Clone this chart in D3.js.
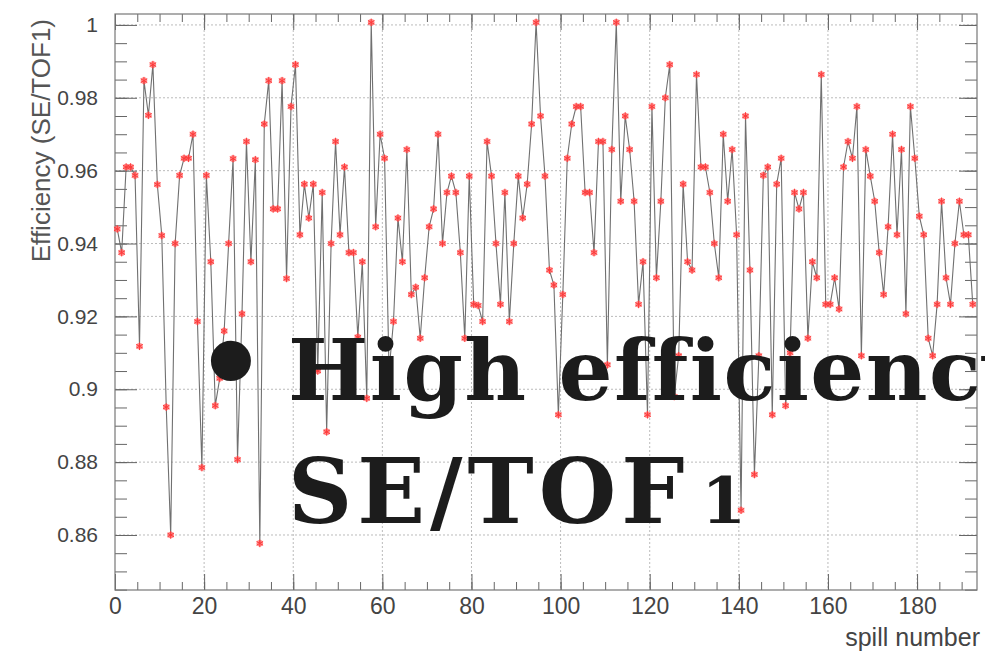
<!DOCTYPE html>
<html><head><meta charset="utf-8">
<script src="https://cdn.jsdelivr.net/npm/d3@7"></script>
<style>body{margin:0;background:#fff}</style>
</head><body>
<svg id="c" width="985" height="654"></svg>
<script>
const efficiency = [
0.944,0.9375,0.961,0.961,0.9587,0.9118,0.9847,0.9752,0.9891,0.9562,
0.9422,0.8951,0.860,0.940,0.9587,0.9634,0.9634,0.970,0.9186,0.8785,
0.9587,0.935,0.8955,0.903,0.916,0.94,0.9633,0.8807,0.9207,0.968,
0.935,0.963,0.8577,0.9728,0.9847,0.9495,0.9495,0.9847,0.9304,0.9776,
0.9891,0.9424,0.9563,0.947,0.9563,0.905,0.954,0.8883,0.94,0.968,
0.9424,0.961,0.9375,0.9375,0.9143,0.935,0.8975,1.0007,0.9446,0.970,
0.9634,0.905,0.9186,0.947,0.935,0.9658,0.926,0.928,0.914,0.9306,
0.9446,0.9495,0.970,0.94,0.954,0.9585,0.954,0.9375,0.914,0.9585,
0.9233,0.923,0.9186,0.968,0.9585,0.94,0.9233,0.954,0.9186,0.94,
0.9585,0.947,0.9563,0.9728,1.0007,0.975,0.9585,0.9327,0.9286,0.893,
0.926,0.9634,0.9728,0.9776,0.9776,0.954,0.954,0.9375,0.968,0.968,
0.9067,0.9658,1.0007,0.9516,0.975,0.9658,0.9516,0.9233,0.935,0.893,
0.9776,0.9306,0.9516,0.98,0.9891,0.898,0.9092,0.9563,0.935,0.9327,
0.9864,0.961,0.961,0.954,0.94,0.9306,0.970,0.9516,0.9658,0.9424,
0.8668,0.975,0.9327,0.8766,0.9092,0.9587,0.961,0.893,0.9563,0.9634,
0.8955,0.91,0.954,0.9495,0.954,0.914,0.935,0.9306,0.9864,0.9233,
0.9233,0.9306,0.922,0.961,0.968,0.9634,0.9776,0.9092,0.9658,0.9585,
0.9516,0.9375,0.926,0.9446,0.970,0.9424,0.9658,0.9207,0.9776,0.9634,
0.9475,0.9424,0.914,0.9092,0.9233,0.9516,0.9306,0.9233,0.94,0.9516,
0.9424,0.9424,0.9233
];
const spill = efficiency.map((d, i) => i + 0.5);
const xTicks = [0, 20, 40, 60, 80, 100, 120, 140, 160, 180];
const yTicks = [0.86, 0.88, 0.9, 0.92, 0.94, 0.96, 0.98, 1];
const yTickLabels = ["0.86", "0.88", "0.9", "0.92", "0.94", "0.96", "0.98", "1"];
const xTitle = "spill number";
const yTitle = "Efficiency (SE/TOF1)";
const noteBullet = "\u2022";
const noteLine1 = "High efficiency";
const noteLine2Main = "SE/TOF";
const noteLine2Num = "1";

const svg = d3.select("#c");
const L = 115, R = 977, T = 14, B = 590;
const x = d3.scaleLinear().domain([0, 193.45]).range([L, R]);
const y = d3.scaleLinear().domain([0.8449, 1.003]).range([B, T]);

const xMinor = d3.range(0, 193.45, 5);
const yMinor = d3.range(0.845, 1.003, 0.005);
const axisFont = "'Liberation Sans', Arial, Helvetica, sans-serif";
const axisColor = "#666";

// grid
svg.append("g").selectAll("line").data(xTicks.filter(d => d > 0)).join("line")
  .attr("x1", d => x(d)).attr("x2", d => x(d)).attr("y1", T).attr("y2", B)
  .attr("stroke", "#bbb").attr("stroke-dasharray", "2,2").attr("stroke-width", 1);
svg.append("g").selectAll("line").data(yTicks).join("line")
  .attr("x1", L).attr("x2", R).attr("y1", d => y(d)).attr("y2", d => y(d))
  .attr("stroke", "#bbb").attr("stroke-dasharray", "2,2").attr("stroke-width", 1);

function styleAxis(g) {
  g.select(".domain").remove();
  g.selectAll(".tick line").attr("stroke", axisColor);
  g.selectAll("text").attr("fill", "#444").style("font-family", axisFont);
}

// bottom axis
svg.append("g").attr("transform", `translate(0,${B})`)
  .call(d3.axisBottom(x).tickValues(xMinor).tickSize(-8).tickFormat(""))
  .call(styleAxis);
svg.append("g").attr("transform", `translate(0,${B})`)
  .call(d3.axisBottom(x).tickValues(xTicks).tickSizeInner(-16).tickSizeOuter(0).tickFormat(d3.format("d")))
  .call(styleAxis)
  .call(g => g.selectAll("text").attr("y", 8).style("font-size", "23px"));
// top axis
svg.append("g").attr("transform", `translate(0,${T})`)
  .call(d3.axisTop(x).tickValues(xMinor).tickSize(-8).tickFormat(""))
  .call(styleAxis);
svg.append("g").attr("transform", `translate(0,${T})`)
  .call(d3.axisTop(x).tickValues(xTicks).tickSize(-16).tickFormat(""))
  .call(styleAxis);
// left axis
svg.append("g").attr("transform", `translate(${L},0)`)
  .call(d3.axisLeft(y).tickValues(yMinor).tickSize(-12).tickFormat(""))
  .call(styleAxis);
svg.append("g").attr("transform", `translate(${L},0)`)
  .call(d3.axisLeft(y).tickValues(yTicks).tickSizeInner(-22).tickSizeOuter(0).tickFormat((d, i) => yTickLabels[i]))
  .call(styleAxis)
  .call(g => g.selectAll("text").attr("x", -17).style("font-size", "21px"));
// right axis
svg.append("g").attr("transform", `translate(${R},0)`)
  .call(d3.axisRight(y).tickValues(yMinor).tickSize(-12).tickFormat(""))
  .call(styleAxis);
svg.append("g").attr("transform", `translate(${R},0)`)
  .call(d3.axisRight(y).tickValues(yTicks).tickSize(-18).tickFormat(""))
  .call(styleAxis);

// frame
svg.append("rect").attr("x", L).attr("y", T).attr("width", R - L).attr("height", B - T)
  .attr("fill", "none").attr("stroke", "#777").attr("stroke-width", 1.2);

// data line
const pts = efficiency.map((v, i) => [spill[i], v]);
svg.append("path").datum(pts)
  .attr("fill", "none").attr("stroke", "#707070").attr("stroke-width", 1.1)
  .attr("d", d3.line().x(d => x(d[0])).y(d => y(d[1])));

// markers
const mk = svg.append("g");
mk.selectAll("circle").data(pts).join("circle")
  .attr("cx", d => x(d[0])).attr("cy", d => y(d[1])).attr("r", 3.3)
  .attr("fill", "#ff5a5a").attr("fill-opacity", 0.7);
mk.selectAll("path").data(pts).join("path")
  .attr("transform", d => `translate(${x(d[0])},${y(d[1])})`)
  .attr("d", d3.symbol(d3.symbolAsterisk, 40))
  .attr("fill", "none").attr("stroke", "#ff3a3a").attr("stroke-width", 1);

// titles
svg.append("text").attr("x", 980).attr("y", 646).attr("text-anchor", "end")
  .style("font-family", axisFont).style("font-size", "25px").attr("fill", "#444").text(xTitle);
svg.append("text").attr("transform", "translate(50,19) rotate(-90)").attr("text-anchor", "end")
  .style("font-family", axisFont).style("font-size", "26px").attr("fill", "#555").text(yTitle);

// overlay note
const noteFont = "'DejaVu Serif', 'Liberation Serif', serif";
svg.append("text").attr("x", 231).attr("y", 403).attr("text-anchor", "middle")
  .style("font-family", noteFont).style("font-weight", "bold").style("font-size", "114px")
  .attr("fill", "#1c1c1c").text(noteBullet);
svg.append("text").attr("x", 288).attr("y", 400)
  .style("font-family", noteFont).style("font-weight", "bold").style("font-size", "85px")
  .style("letter-spacing", "1.4px")
  .attr("fill", "#1c1c1c").text(noteLine1);
const l2 = svg.append("text").attr("x", 288).attr("y", 523)
  .style("font-family", noteFont).style("font-weight", "bold").style("font-size", "89px")
  .style("letter-spacing", "5px")
  .attr("fill", "#1c1c1c");
l2.append("tspan").text(noteLine2Main);
l2.append("tspan").attr("dx", 12).style("font-size", "64px").text(noteLine2Num);
</script>
</body></html>
